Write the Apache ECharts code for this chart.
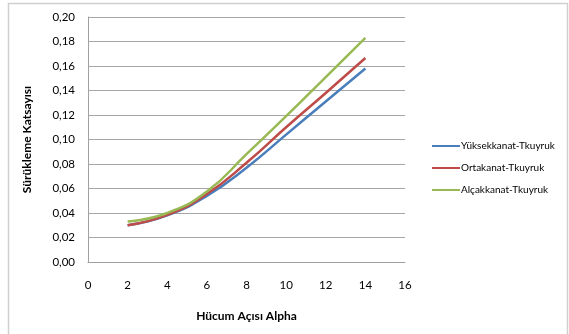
<!DOCTYPE html>
<html>
<head>
<meta charset="utf-8">
<script src="https://cdn.jsdelivr.net/npm/echarts@6/dist/echarts.min.js"></script>
<style>html,body{margin:0;padding:0;background:#fff;}#c{width:569px;height:334px;}</style>
</head>
<body>
<div id="c"></div>
<script>
var alpha = [2, 4, 6, 8, 10, 12, 14];
var yuksek = [0.030, 0.038, 0.054, 0.077, 0.104, 0.131, 0.158];
var orta   = [0.030, 0.0385, 0.0555, 0.081, 0.110, 0.138, 0.1665];
var alcak  = [0.033, 0.040, 0.0575, 0.088, 0.119, 0.151, 0.183];
var seriesNames = ['Yüksekkanat-Tkuyruk', 'Ortakanat-Tkuyruk', 'Alçakkanat-Tkuyruk'];
var colors = ['#4A7EBB', '#BE4B48', '#98B954'];

function pairs(ys) { return alpha.map(function (x, i) { return [x, ys[i]]; }); }

var font = 'Lato, "Open Sans", sans-serif';
var chart = echarts.init(document.getElementById('c'), null, {renderer: 'canvas'});
chart.setOption({
  animation: false,
  backgroundColor: '#fff',
  color: colors,
  graphic: [{
    type: 'rect', shape: {x: 8.5, y: 3.5, width: 559, height: 340},
    style: {fill: 'none', stroke: '#cfcfcf', lineWidth: 1.5}, silent: true
  }],
  grid: {left: 88, right: 164, top: 17, bottom: 72, containLabel: false},
  xAxis: {
    type: 'value', min: 0, max: 16, interval: 2,
    name: 'Hücum Açısı Alpha', nameLocation: 'middle', nameGap: 48,
    nameTextStyle: {fontFamily: font, fontSize: 12, fontWeight: 'bold', color: '#000'},
    axisLine: {show: true, lineStyle: {color: '#a0a0a0', width: 1}},
    axisTick: {show: false},
    splitLine: {show: false},
    axisLabel: {fontFamily: font, fontSize: 11.5, color: '#000', margin: 17}
  },
  yAxis: {
    type: 'value', min: 0, max: 0.2, interval: 0.02,
    name: 'Sürükleme Katsayısı', nameLocation: 'middle', nameGap: 55, nameRotate: 90,
    nameTextStyle: {fontFamily: font, fontSize: 12, fontWeight: 'bold', color: '#000'},
    axisLine: {show: true, lineStyle: {color: '#a0a0a0', width: 1}},
    axisTick: {show: false},
    splitLine: {show: true, lineStyle: {color: '#a6a6a6', width: 1}},
    axisLabel: {fontFamily: font, fontSize: 11.5, color: '#000', margin: 13,
      formatter: function (v) { return v.toFixed(2).replace('.', ','); }}
  },
  legend: {
    orient: 'vertical', left: 432, top: 140, padding: 0,
    icon: 'rect', itemWidth: 28, itemHeight: 2, itemGap: 10,
    textStyle: {fontFamily: font, fontSize: 10, color: '#000', lineHeight: 12, padding: [0, 0, 0, -4]},
    data: seriesNames
  },
  series: [yuksek, orta, alcak].map(function (d, i) {
    return {
      name: seriesNames[i], type: 'line', smooth: true, symbol: 'none',
      data: pairs(d), lineStyle: {width: 2.5, color: colors[i]}, itemStyle: {color: colors[i]}
    };
  })
});
</script>
</body>
</html>
